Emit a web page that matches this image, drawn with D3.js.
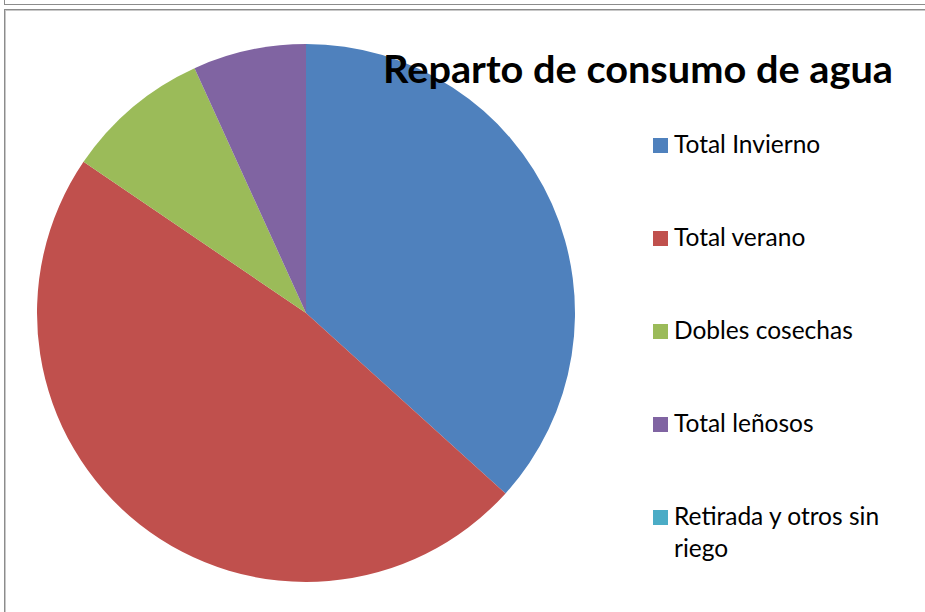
<!DOCTYPE html>
<meta charset="utf-8">
<style>
  body { margin: 0; background: #fff; }
  svg { display: block; }
  text { font-family: 'Lato', 'Open Sans', sans-serif; fill: #000; }
  .title { font-weight: bold; font-size: 38px; }
  .legend-text { font-size: 24.5px; }
</style>
<script src="https://d3js.org/d3.v7.min.js"></script>
<svg width="925" height="612"></svg>
<script>
  // data (share of total, %)
  var categories = ["Total Invierno", "Total verano", "Dobles cosechas", "Total leñosos", "Retirada y otros sin riego"];
  var values = [36.7, 47.8, 8.7, 6.8, 0];
  var colors = ["#4F81BD", "#C0504D", "#9BBB59", "#8064A2", "#4BACC6"];
  var titleText = "Reparto de consumo de agua";

  var svg = d3.select("svg");

  // window frame lines (gray, doubled)
  var frame = svg.append("g");
  frame.append("line").attr("x1", 4).attr("y1", 4.5).attr("x2", 925).attr("y2", 4.5).attr("stroke", "#8c8c8c");
  frame.append("line").attr("x1", 4.5).attr("y1", 0).attr("x2", 4.5).attr("y2", 5).attr("stroke", "#8c8c8c");
  frame.append("line").attr("x1", 5).attr("y1", 9.5).attr("x2", 925).attr("y2", 9.5).attr("stroke", "#8c8c8c");
  frame.append("line").attr("x1", 5).attr("y1", 10.5).attr("x2", 925).attr("y2", 10.5).attr("stroke", "#c8c8c8");
  frame.append("line").attr("x1", 4.5).attr("y1", 9).attr("x2", 4.5).attr("y2", 612).attr("stroke", "#8c8c8c");
  frame.append("line").attr("x1", 5.5).attr("y1", 10).attr("x2", 5.5).attr("y2", 612).attr("stroke", "#c8c8c8");

  var cx = 306, cy = 313, radius = 269;

  var pie = d3.pie().sort(null).value(function(d) { return d; });
  var arc = d3.arc().innerRadius(0).outerRadius(radius);

  var g = svg.append("g").attr("transform", "translate(" + cx + "," + cy + ")");
  g.selectAll("path")
    .data(pie(values))
    .enter().append("path")
    .attr("d", arc)
    .attr("fill", function(d, i) { return colors[i]; });

  svg.append("text")
    .attr("class", "title")
    .attr("x", 383)
    .attr("y", 83)
    .attr("textLength", 510)
    .attr("lengthAdjust", "spacingAndGlyphs")
    .text(titleText);

  // legend
  var legendY = d3.scalePoint().domain(categories).range([153, 525]);
  var lg = svg.append("g");
  var item = lg.selectAll("g")
    .data(categories)
    .enter().append("g")
    .attr("transform", function(d) { return "translate(653," + legendY(d) + ")"; });

  item.append("rect")
    .attr("x", 0).attr("y", -15)
    .attr("width", 15).attr("height", 15)
    .attr("fill", function(d, i) { return colors[i]; });

  item.append("text")
    .attr("class", "legend-text")
    .attr("x", 21)
    .attr("y", 0)
    .each(function(d) {
      var t = d3.select(this);
      if (d === "Retirada y otros sin riego") {
        t.append("tspan").attr("x", 21).attr("dy", 0).text("Retirada y otros sin");
        t.append("tspan").attr("x", 21).attr("dy", 32).text("riego");
      } else {
        t.text(d);
      }
    });
</script>
